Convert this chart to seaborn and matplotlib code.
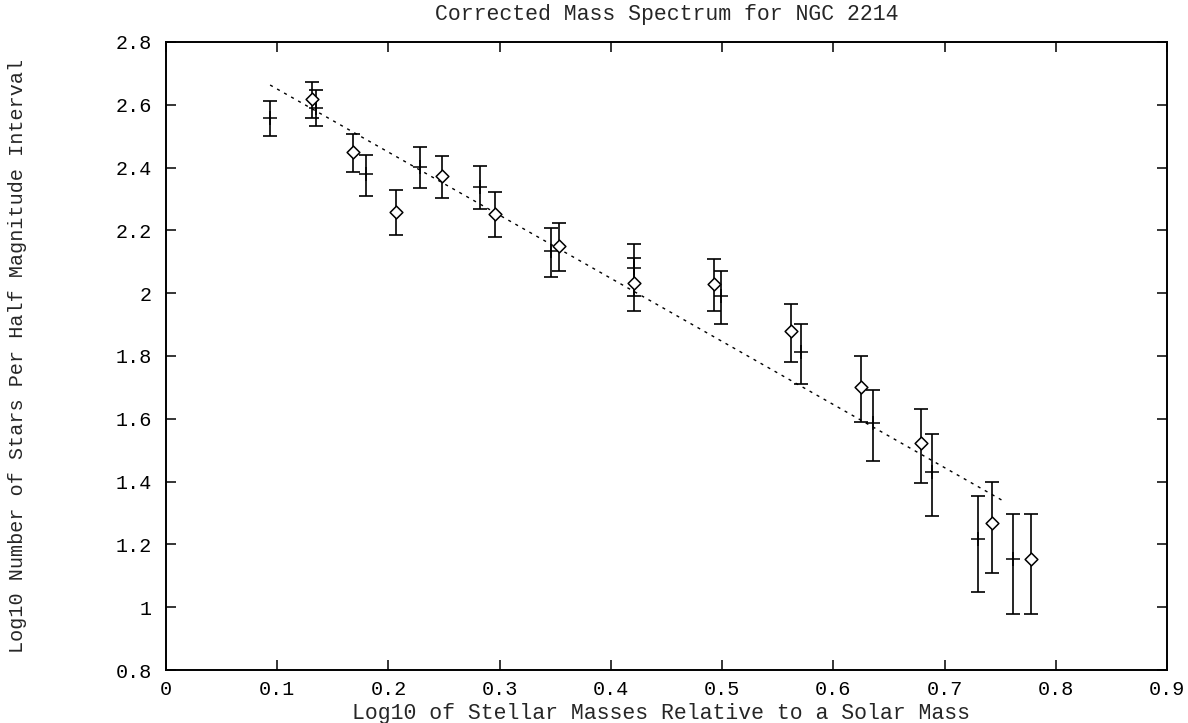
import matplotlib
matplotlib.use("Agg")
import matplotlib.pyplot as plt
import seaborn as sns
import numpy as np
import pandas as pd
from matplotlib.ticker import FuncFormatter, MultipleLocator

# ---- data ----
plus_x = [0.0936, 0.135, 0.1794, 0.228, 0.282, 0.3463, 0.4206, 0.4986, 0.571, 0.6355, 0.689, 0.7304, 0.7615]
plus_y = [2.557, 2.589, 2.379, 2.402, 2.339, 2.134, 2.079, 1.991, 1.813, 1.586, 1.431, 1.218, 1.155]
plus_hi = [2.612, 2.647, 2.441, 2.466, 2.406, 2.209, 2.156, 2.072, 1.903, 1.691, 1.550, 1.353, 1.297]
plus_lo = [2.500, 2.533, 2.310, 2.334, 2.267, 2.051, 1.992, 1.902, 1.711, 1.465, 1.292, 1.050, 0.978]

diam_x = [0.1317, 0.168, 0.2064, 0.248, 0.296, 0.3534, 0.4206, 0.4927, 0.5617, 0.6253, 0.679, 0.7429, 0.778]
diam_y = [2.618, 2.449, 2.260, 2.372, 2.253, 2.150, 2.032, 2.029, 1.880, 1.701, 1.523, 1.269, 1.155]
diam_hi = [2.672, 2.508, 2.329, 2.436, 2.322, 2.224, 2.111, 2.108, 1.967, 1.799, 1.632, 1.400, 1.297]
diam_lo = [2.559, 2.385, 2.185, 2.303, 2.179, 2.072, 1.943, 1.942, 1.782, 1.591, 1.396, 1.110, 0.978]

fit_x = [0.0936, 0.754]
fit_y = [2.663, 1.336]

title = "Corrected Mass Spectrum for NGC 2214"
xlabel = "Log10 of Stellar Masses Relative to a Solar Mass"
ylabel = "Log10 Number of Stars Per Half Magnitude Interval"

# ---- style ----
sns.set_theme(style="ticks")
plt.rcParams['font.family'] = ['Liberation Mono', 'DejaVu Sans Mono']
FS_TICK = 14.5
FS_LAB = 15.5
FS_YLAB = 14.5

fig = plt.figure(figsize=(11.88, 7.23), dpi=100)
ax = fig.add_axes([166/1188, 1-670/723, (1167-166)/1188, (670-42)/723])

plus_df = pd.DataFrame({"x": plus_x, "y": plus_y, "lo": plus_lo, "hi": plus_hi})
diam_df = pd.DataFrame({"x": diam_x, "y": diam_y, "lo": diam_lo, "hi": diam_hi})
fit_df = pd.DataFrame({"x": fit_x, "y": fit_y})

for df in (plus_df, diam_df):
    yerr = np.vstack([df["y"] - df["lo"], df["hi"] - df["y"]])
    ax.errorbar(df["x"], df["y"], yerr=yerr, fmt="none", ecolor="black",
                elinewidth=1.2, capsize=5, capthick=1.2, zorder=2)

sns.scatterplot(data=plus_df, x="x", y="y", marker="+", s=110, color="black",
                linewidth=1.1, ax=ax, zorder=3)
sns.scatterplot(data=diam_df, x="x", y="y", marker="D", s=42, facecolor="white",
                edgecolor="black", linewidth=1.1, ax=ax, zorder=4)
sns.lineplot(data=fit_df, x="x", y="y", color="black", linewidth=1.0,
             linestyle=(0, (2.2, 3.6)), ax=ax, zorder=1)

ax.set_xlim(0, 0.9)
ax.set_ylim(0.8, 2.8)
ax.xaxis.set_major_locator(MultipleLocator(0.1))
ax.yaxis.set_major_locator(MultipleLocator(0.2))
fmt = FuncFormatter(lambda v, p: f"{round(v, 2):g}")
ax.xaxis.set_major_formatter(fmt)
ax.yaxis.set_major_formatter(fmt)
ax.tick_params(direction="in", length=7, width=1.1, top=True, right=True,
               labelsize=FS_TICK, colors="black")
ax.tick_params(axis="x", pad=7)
ax.tick_params(axis="y", pad=10)
for sp in ax.spines.values():
    sp.set_linewidth(1.4)
    sp.set_color("black")

ax.set_title(title, fontsize=FS_LAB, pad=16)
ax.set_xlabel(xlabel, fontsize=FS_LAB)
ax.set_ylabel(ylabel, fontsize=FS_YLAB)
ax.xaxis.set_label_coords(0.495, -0.052)
ax.yaxis.set_label_coords(-0.139, 0.5)

fig.savefig("out.png", dpi=100)
